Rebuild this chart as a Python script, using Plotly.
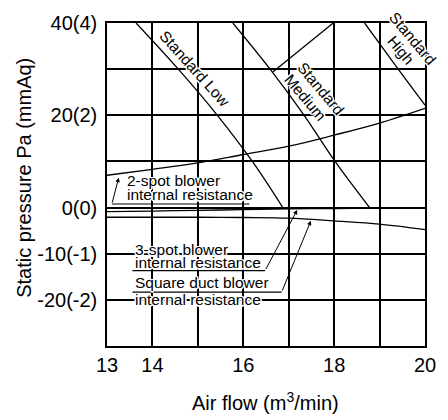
import plotly.graph_objects as go

# ---- data ----
low_flow = [13.64, 14.57, 15.43, 16.2, 16.87]
low_press = [40, 30, 20, 10, 0]

medium_flow = [15.77, 16.59, 17.34, 18.02, 18.78]
medium_press = [40, 30, 20, 10, 0]

high_flow = [18.67, 19.41, 20.0]
high_press = [40, 30, 22.2]

medium_leader_flow = [16.65, 17.98]
medium_leader_press = [29.4, 40]

res_flow = [13, 14, 15, 16, 17, 18, 19, 20]
two_spot_press = [7.0, 8.3, 9.7, 11.5, 13.3, 15.7, 18.3, 21.5]
three_spot_press = [-0.9, -0.75, -0.6, -0.45, -0.3, -0.2, -0.1, -0.05]
square_duct_press = [-2.1, -2.1, -2.1, -2.15, -2.3, -2.9, -3.6, -4.8]

x_tickvals = [13, 14, 15, 16, 17, 18, 19, 20]
x_ticktext = ["13", "14", "", "16", "", "18", "", "20"]
y_tickvals = [-30, -20, -10, 0, 10, 20, 30, 40]
y_ticktext = ["", "-20(-2)", "-10(-1)", "0(0)", "", "20(2)", "", "40(4)"]

FONT = "Liberation Sans, Arial, Helvetica, sans-serif"
HALO = ("white 1.5px 0px 0px, white -1.5px 0px 0px, white 0px 1.5px 0px, "
        "white 0px -1.5px 0px, white 1px 1px 0px, white -1px -1px 0px, "
        "white 1px -1px 0px, white -1px 1px 0px")

fig = go.Figure()
line_style = dict(color="black", width=1.3)
for xs, ys in [(low_flow, low_press), (medium_flow, medium_press),
               (high_flow, high_press), (medium_leader_flow, medium_leader_press)]:
    fig.add_trace(go.Scatter(x=xs, y=ys, mode="lines", line=dict(shape="spline", **line_style),
                             showlegend=False, hoverinfo="skip"))
for ys in [two_spot_press, three_spot_press, square_duct_press]:
    fig.add_trace(go.Scatter(x=res_flow, y=ys, mode="lines", line=dict(shape="spline", **line_style),
                             showlegend=False, hoverinfo="skip"))

lab_font = dict(family=FONT, size=15.5, color="black", shadow=HALO)
ann = []
def txt(x, y, s, angle=0, xanchor="center"):
    ann.append(dict(x=x, y=y, xref="x", yref="y", text=s, showarrow=False,
                    textangle=angle, xanchor=xanchor, yanchor="middle", font=lab_font))

txt(14.93, 30.2, "Standard Low", 48)
txt(17.70, 25.7, "Standard", 50)
txt(17.37, 23.9, "Medium", 50)
txt(19.73, 36.6, "Standard", 50)
txt(19.48, 34.1, "High", 50)
txt(13.387, 5.9, "2-spot blower", 0, "left")
txt(13.387, 2.8, "internal resistance", 0, "left")
txt(13.58, -9.0, "3-spot blower", 0, "left")
txt(13.58, -12.0, "internal resistance", 0, "left")
txt(13.58, -16.2, "Square duct blower", 0, "left")
txt(13.58, -20.0, "internal resistance", 0, "left")

# leader arrows
for (x0, y0, x1, y1) in [(13.107, 0.76, 13.258, 6.48),
                         (16.48, -13.67, 17.187, -0.51),
                         (16.844, -18.33, 17.488, -2.85)]:
    ann.append(dict(x=x1, y=y1, ax=x0, ay=y0, xref="x", yref="y", axref="x", ayref="y",
                    text="", showarrow=True, arrowhead=2, arrowsize=0.9, arrowwidth=1,
                    arrowcolor="black", standoff=0))

# axis titles
ann.append(dict(x=-0.2607, y=0.521, xref="paper", yref="paper", text="Static pressure Pa (mmAq)",
                textangle=-90, showarrow=False, xanchor="center", yanchor="middle",
                font=dict(family=FONT, size=20, color="black")))
ann.append(dict(x=0.497, y=-0.1727, xref="paper", yref="paper", text="Air flow (m<sup>3</sup>/min)",
                showarrow=False, xanchor="center", yanchor="middle",
                font=dict(family=FONT, size=20, color="black")))

shapes = []
for (x0, x1, y) in [(13.107, 16.135, 0.76), (13.56, 16.48, -13.67), (13.56, 16.844, -18.33)]:
    shapes.append(dict(type="line", xref="x", yref="y", x0=x0, x1=x1, y0=y, y1=y,
                       line=dict(color="black", width=1.1), layer="below"))

fig.update_layout(
    width=448, height=420,
    margin=dict(l=107, r=15, t=16, b=74),
    paper_bgcolor="white", plot_bgcolor="white",
    font=dict(family=FONT, size=20, color="black"),
    annotations=ann, shapes=shapes,
    xaxis=dict(range=[13, 20], tickvals=x_tickvals, ticktext=x_ticktext,
               showgrid=True, gridcolor="black", gridwidth=1.5, zeroline=False,
               showline=True, mirror=True, linecolor="black", linewidth=1.5,
               ticks="", ticklabelstandoff=0, tickfont=dict(size=20)),
    yaxis=dict(range=[-30, 40], tickvals=y_tickvals, ticktext=y_ticktext,
               showgrid=True, gridcolor="black", gridwidth=1.5, zeroline=False,
               showline=True, mirror=True, linecolor="black", linewidth=1.5,
               ticks="", ticklabelstandoff=4, tickfont=dict(size=20)),
)

fig.write_html("out.html", config={"displayModeBar": False},
               post_script="document.body.style.margin='0';document.body.style.overflow='hidden';")
